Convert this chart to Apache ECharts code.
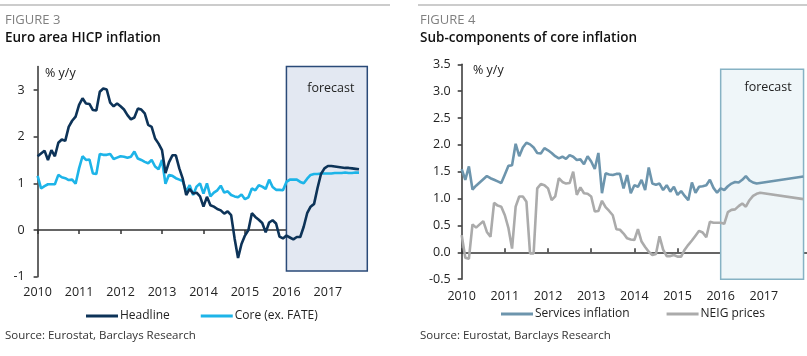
<!DOCTYPE html>
<html>
<head>
<meta charset="utf-8">
<script src="https://cdn.jsdelivr.net/npm/echarts@6/dist/echarts.min.js"></script>
<style>
html,body{margin:0;padding:0;background:#fff;}
#chart{width:807px;height:356px;}
</style>
</head>
<body>
<div id="chart"></div>
<script>
// ---- Data (monthly, index 0 = start of 2010 on the axis) ----
const yearTicks = [2010, 2011, 2012, 2013, 2014, 2015, 2016, 2017];
const leftYTicks = [-1, 0, 1, 2, 3];

const headline = [
  1.58, 1.64, 1.70, 1.50, 1.71, 1.58, 1.87, 1.94, 1.91, 2.21, 2.34, 2.43,
  2.68, 2.82, 2.71, 2.70, 2.57, 2.56, 2.96, 3.03, 3.01, 2.73, 2.65, 2.71,
  2.65, 2.58, 2.46, 2.37, 2.41, 2.60, 2.58, 2.50, 2.25, 2.21, 1.96, 1.85,
  1.71, 1.22, 1.45, 1.60, 1.60, 1.32, 1.10, 0.75, 0.88, 0.78, 0.80, 0.72,
  0.50, 0.71, 0.53, 0.50, 0.45, 0.42, 0.35, 0.40, 0.32, -0.18, -0.60, -0.30,
  -0.12, 0.00, 0.36, 0.28, 0.22, 0.15, -0.05, 0.16, 0.21, 0.14, -0.14, -0.18,
  -0.12, -0.16, -0.20, -0.15, -0.15, 0.07, 0.36, 0.50, 0.56, 0.90, 1.20, 1.32,
  1.37, 1.37, 1.36, 1.35, 1.34, 1.33, 1.33, 1.32, 1.31, 1.30
];
const core = [
  1.16, 0.89, 0.94, 0.98, 0.98, 0.98, 1.18, 1.13, 1.11, 1.07, 1.08, 0.99,
  1.32, 1.58, 1.50, 1.51, 1.21, 1.20, 1.63, 1.61, 1.61, 1.63, 1.52, 1.55,
  1.58, 1.57, 1.55, 1.57, 1.68, 1.53, 1.50, 1.46, 1.43, 1.50, 1.36, 1.30,
  1.50, 0.99, 1.18, 1.16, 1.11, 1.08, 1.05, 0.82, 0.96, 0.75, 0.93, 1.00,
  0.78, 1.00, 0.72, 0.80, 0.85, 0.95, 0.80, 0.83, 0.75, 0.72, 0.70, 0.76,
  0.66, 0.70, 0.89, 0.85, 0.96, 0.93, 0.88, 1.08, 0.92, 0.86, 0.86, 0.85,
  1.03, 1.08, 1.08, 1.08, 1.03, 1.00, 1.10, 1.18, 1.20, 1.20, 1.21, 1.21,
  1.21, 1.21, 1.22, 1.22, 1.22, 1.23, 1.22, 1.22, 1.23, 1.23
];
const services = [
  1.55, 1.35, 1.60, 1.17, 1.24, 1.30, 1.36, 1.42, 1.38, 1.35, 1.32, 1.29,
  1.45, 1.61, 1.62, 2.02, 1.79, 1.95, 2.04, 2.01, 1.95, 1.85, 1.84, 1.94,
  1.90, 1.85, 1.79, 1.75, 1.78, 1.74, 1.81, 1.78, 1.72, 1.73, 1.64, 1.79,
  1.69, 1.55, 1.85, 1.10, 1.47, 1.45, 1.44, 1.46, 1.46, 1.19, 1.44, 1.10,
  1.25, 1.22, 1.35, 1.16, 1.58, 1.28, 1.26, 1.28, 1.16, 1.25, 1.13, 1.22,
  1.07, 1.14, 1.05, 0.97, 1.30, 1.11, 1.22, 1.23, 1.25, 1.35, 1.20, 1.11,
  1.19, 1.16, 1.23, 1.28, 1.31, 1.30, 1.35, 1.42, 1.34, 1.30, 1.28, null,
  null, null, null, null, null, null, null, null, null, null, null, 1.41
];
const neig = [
  0.32, -0.10, -0.12, 0.52, 0.46, 0.52, 0.58, 0.38, 0.29, 0.92, 0.87, 0.85,
  0.69, 0.45, 0.07, 0.85, 1.04, 1.04, 0.94, -0.02, -0.02, 1.19, 1.27, 1.25,
  1.19, 0.97, 1.04, 1.38, 1.31, 1.28, 1.29, 1.50, 1.07, 1.21, 1.10, 1.09,
  1.04, 0.76, 0.77, 0.96, 0.84, 0.77, 0.69, 0.43, 0.42, 0.35, 0.26, 0.24,
  0.23, 0.43, 0.20, 0.10, 0.01, -0.05, -0.03, 0.30, 0.05, -0.07, -0.07, -0.05,
  -0.08, -0.08, 0.05, 0.14, 0.22, 0.31, 0.40, 0.37, 0.28, 0.57, 0.55, 0.55,
  0.55, 0.53, 0.75, 0.79, 0.80, 0.86, 0.91, 0.85, 0.97, 1.05, 1.09, 1.11,
  null, null, null, null, null, null, null, null, null, null, null, 0.99
];
const forecastLeft = [2016, 2017.95, 3.51, -0.88];
const forecastRight = [2016, 2017.92, 3.41, -0.52];

// ---- helpers ----
const toXY = arr => arr.map((v, i) => [2010 + i / 12, v]);
const FONT = 'Open Sans';
const AX = '#333333';

const chart = echarts.init(document.getElementById('chart'), null, {renderer: 'canvas'});

function labelAxis(grid, max, margin) {
  return {
    gridIndex: grid, type: 'value', min: 2010, max: max, position: 'bottom',
    axisLine: {show: false, onZero: false}, axisTick: {show: false},
    splitLine: {show: false},
    axisLabel: {customValues: yearTicks, margin: margin, fontFamily: FONT, fontSize: 12.5, color: '#222',
      formatter: v => String(Math.round(v))}
  };
}
function zeroAxis(grid, max, inside) {
  return {
    gridIndex: grid, type: 'value', min: 2010, max: max, position: 'bottom',
    axisLine: {show: true, onZero: true, lineStyle: {color: AX, width: 1.5}},
    axisTick: {show: true, customValues: yearTicks, inside: inside, length: 4, lineStyle: {color: AX, width: 1.5}},
    axisLabel: {show: false}, splitLine: {show: false}
  };
}
function boxArea(b) {
  return [[{xAxis: b[0], yAxis: b[2]}, {xAxis: b[1], yAxis: b[3]}]];
}

const option = {
  animation: false,
  backgroundColor: '#fff',
  grid: [
    {left: 37.6, right: 439.7, top: 66.6, bottom: 79.3},
    {left: 461.7, right: 0, top: 64.3, bottom: 76.8}
  ],
  xAxis: [
    labelAxis(0, 2017.95, 9),
    zeroAxis(0, 2017.95, false),
    labelAxis(1, 2018, 11),
    zeroAxis(1, 2018, true)
  ],
  yAxis: [
    {gridIndex: 0, type: 'value', min: -1, max: 3.5, interval: 1,
     axisLine: {show: true, onZero: false, lineStyle: {color: AX, width: 1.5}},
     axisTick: {show: true, customValues: leftYTicks, length: 4, lineStyle: {color: AX, width: 1.5}},
     axisLabel: {customValues: leftYTicks, margin: 13, fontFamily: FONT, fontSize: 12.5, color: '#222'},
     splitLine: {show: false}},
    {gridIndex: 1, type: 'value', min: -0.5, max: 3.5, interval: 0.5,
     axisLine: {show: true, onZero: false, lineStyle: {color: AX, width: 1.5}},
     axisTick: {show: true, length: 4, lineStyle: {color: AX, width: 1.5}},
     axisLabel: {margin: 11, fontFamily: FONT, fontSize: 12.5, color: '#222', formatter: v => v.toFixed(1)},
     splitLine: {show: false}}
  ],
  legend: [
    {data: ['Headline', 'Core (ex. FATE)'], left: 81, top: 305, icon: 'rect', itemWidth: 32, itemHeight: 3,
     itemGap: 31, textStyle: {fontFamily: FONT, fontSize: 12, color: '#222', padding: [0, 0, 0, -3]}},
    {data: ['Services inflation', 'NEIG prices'], left: 496, top: 303, icon: 'rect', itemWidth: 32, itemHeight: 3,
     itemGap: 37, textStyle: {fontFamily: FONT, fontSize: 12, color: '#222', padding: [0, 0, 0, -3]}}
  ],
  graphic: [
    {type: 'rect', shape: {x: 0, y: 4, width: 390, height: 2}, style: {fill: '#cccccc'}},
    {type: 'rect', shape: {x: 418, y: 4, width: 389, height: 2}, style: {fill: '#cccccc'}},
    {type: 'text', x: 5, y: 20, style: {text: 'FIGURE 3', font: '13px "Open Sans"', fill: '#808080', verticalAlign: 'middle'}},
    {type: 'text', x: 5, y: 38, style: {text: 'Euro area HICP inflation', font: '600 13.5px "Open Sans"', fill: '#111', verticalAlign: 'middle'}},
    {type: 'text', x: 420, y: 20, style: {text: 'FIGURE 4', font: '13px "Open Sans"', fill: '#808080', verticalAlign: 'middle'}},
    {type: 'text', x: 420, y: 38, style: {text: 'Sub-components of core inflation', font: '600 13.5px "Open Sans"', fill: '#111', verticalAlign: 'middle'}},
    {type: 'text', x: 45, y: 73, style: {text: '% y/y', font: '12.5px "Open Sans"', fill: '#222', verticalAlign: 'middle'}},
    {type: 'text', x: 473, y: 70, style: {text: '% y/y', font: '12.5px "Open Sans"', fill: '#222', verticalAlign: 'middle'}},
    {type: 'text', x: 5, y: 336, style: {text: 'Source: Eurostat, Barclays Research', font: '11.5px "Open Sans"', fill: '#333', verticalAlign: 'middle'}},
    {type: 'text', x: 420, y: 336, style: {text: 'Source: Eurostat, Barclays Research', font: '11.5px "Open Sans"', fill: '#333', verticalAlign: 'middle'}}
  ],
  series: [
    {type: 'line', name: '_fL', xAxisIndex: 0, yAxisIndex: 0, data: [], z: -1, silent: true,
     markArea: {silent: true, itemStyle: {color: '#e3e8f2', borderColor: '#2a4a78', borderWidth: 1.5},
       label: {show: true, position: 'insideTop', distance: 16, offset: [4, 0], formatter: 'forecast',
         fontFamily: FONT, fontSize: 12.5, color: '#222'},
       data: boxArea(forecastLeft)}},
    {type: 'line', name: '_fR', xAxisIndex: 2, yAxisIndex: 1, data: [], z: -1, silent: true,
     markArea: {silent: true, itemStyle: {color: '#eff6f9', borderColor: '#86b2c4', borderWidth: 1.5},
       label: {show: true, position: 'insideTop', distance: 13, offset: [6, 0], formatter: 'forecast',
         fontFamily: FONT, fontSize: 12.5, color: '#222'},
       data: boxArea(forecastRight)}},
    {type: 'line', name: 'Core (ex. FATE)', xAxisIndex: 0, yAxisIndex: 0, data: toXY(core), showSymbol: false,
     lineStyle: {color: '#1db4e8', width: 2.6}, itemStyle: {color: '#1db4e8'}, z: 3},
    {type: 'line', name: 'Headline', xAxisIndex: 0, yAxisIndex: 0, data: toXY(headline), showSymbol: false,
     lineStyle: {color: '#0d3358', width: 2.6}, itemStyle: {color: '#0d3358'}, z: 4},
    {type: 'line', name: 'NEIG prices', xAxisIndex: 2, yAxisIndex: 1, data: toXY(neig), showSymbol: false, connectNulls: true,
     lineStyle: {color: '#ababab', width: 2.6}, itemStyle: {color: '#ababab'}, z: 3},
    {type: 'line', name: 'Services inflation', xAxisIndex: 2, yAxisIndex: 1, data: toXY(services), showSymbol: false, connectNulls: true,
     lineStyle: {color: '#6d95ad', width: 2.6}, itemStyle: {color: '#6d95ad'}, z: 4}
  ]
};
chart.setOption(option);
</script>
</body>
</html>
